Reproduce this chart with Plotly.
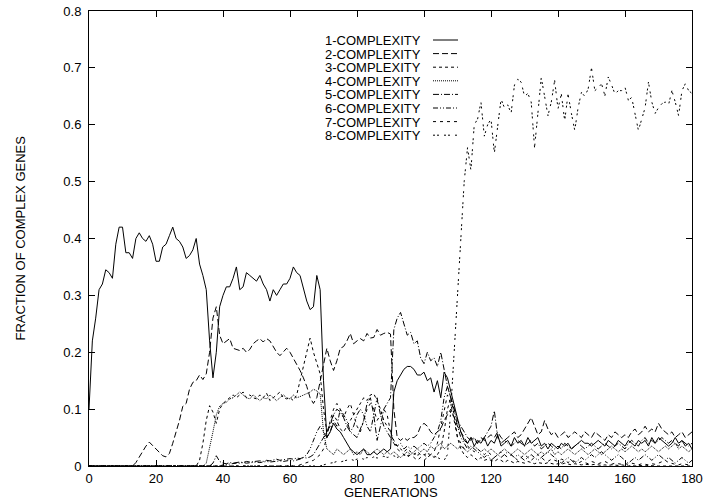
import plotly.graph_objects as go

generations = list(range(0, 181))

c1 = ([0.10, 0.22, 0.26, 0.31, 0.32, 0.345, 0.34, 0.33, 0.39, 0.42]
      + [0.42, 0.375, 0.375, 0.365, 0.40, 0.41, 0.40, 0.395, 0.405, 0.39]
      + [0.36, 0.36, 0.385, 0.39, 0.405, 0.42, 0.40, 0.395, 0.385, 0.365]
      + [0.37, 0.38, 0.40, 0.355, 0.335, 0.31, 0.22, 0.155, 0.20, 0.28]
      + [0.30, 0.315, 0.315, 0.33, 0.35, 0.31, 0.315, 0.34, 0.335, 0.33]
      + [0.325, 0.335, 0.32, 0.31, 0.29, 0.31, 0.30, 0.31, 0.32, 0.32]
      + [0.33, 0.35, 0.34, 0.335, 0.31, 0.29, 0.275, 0.28, 0.335, 0.31]
      + [0.15, 0.05, 0.06, 0.075, 0.065, 0.06, 0.05, 0.04, 0.03, 0.025]
      + [0.02, 0.025, 0.03, 0.02, 0.02, 0.025, 0.02, 0.025, 0.03, 0.025]
      + [0.03, 0.13, 0.15, 0.16, 0.17, 0.175, 0.175, 0.17, 0.16, 0.16]
      + [0.165, 0.15, 0.155, 0.13, 0.15, 0.12, 0.165, 0.155, 0.13, 0.11]
      + [0.08, 0.06, 0.045, 0.04, 0.05, 0.035, 0.045, 0.04, 0.05, 0.035]
      + [0.045, 0.04, 0.055, 0.035, 0.04, 0.045, 0.035, 0.05, 0.04, 0.045]
      + [0.035, 0.05, 0.04, 0.045, 0.05, 0.035, 0.04, 0.03, 0.04, 0.035]
      + [0.03, 0.04, 0.035, 0.04, 0.03, 0.035, 0.04, 0.045, 0.04, 0.04]
      + [0.035, 0.04, 0.045, 0.04, 0.035, 0.045, 0.04, 0.035, 0.045, 0.04]
      + [0.035, 0.045, 0.04, 0.035, 0.045, 0.04, 0.045, 0.035, 0.05, 0.04]
      + [0.05, 0.045, 0.04, 0.035, 0.04, 0.05, 0.04, 0.045, 0.035, 0.04]
      + [0.03])

c2 = ([0, 0, 0, 0, 0, 0, 0, 0, 0, 0]
      + [0, 0, 0, 0, 0.006, 0.016, 0.026, 0.035, 0.042, 0.036]
      + [0.03, 0.024, 0.018, 0.016, 0.022, 0.04, 0.06, 0.08, 0.105, 0.11]
      + [0.135, 0.147, 0.15, 0.16, 0.152, 0.162, 0.2, 0.26, 0.28, 0.23]
      + [0.215, 0.22, 0.224, 0.207, 0.205, 0.203, 0.207, 0.2, 0.205, 0.215]
      + [0.22, 0.224, 0.218, 0.224, 0.22, 0.21, 0.2, 0.194, 0.2, 0.207]
      + [0.2, 0.19, 0.18, 0.168, 0.155, 0.14, 0.12, 0.11, 0.12, 0.15]
      + [0.18, 0.207, 0.185, 0.168, 0.185, 0.207, 0.21, 0.22, 0.233, 0.215]
      + [0.22, 0.224, 0.22, 0.233, 0.225, 0.226, 0.24, 0.23, 0.233, 0.235]
      + [0.232, 0.1, 0.05, 0.045, 0.05, 0.045, 0.05, 0.05, 0.055, 0.07]
      + [0.075, 0.07, 0.06, 0.055, 0.06, 0.065, 0.08, 0.09, 0.1, 0.085]
      + [0.07, 0.06, 0.05, 0.04, 0.05, 0.045, 0.04, 0.05, 0.045, 0.05]
      + [0.055, 0.05, 0.06, 0.05, 0.045, 0.05, 0.055, 0.06, 0.05, 0.055]
      + [0.065, 0.075, 0.085, 0.07, 0.055, 0.06, 0.08, 0.065, 0.055, 0.06]
      + [0.05, 0.055, 0.06, 0.05, 0.055, 0.06, 0.055, 0.05, 0.06, 0.055]
      + [0.05, 0.06, 0.055, 0.05, 0.045, 0.055, 0.05, 0.06, 0.055, 0.05]
      + [0.055, 0.05, 0.06, 0.065, 0.055, 0.06, 0.07, 0.06, 0.065, 0.06]
      + [0.075, 0.065, 0.06, 0.055, 0.06, 0.05, 0.055, 0.06, 0.05, 0.055]
      + [0.06])

c3 = ([0] * 30
      + [0, 0, 0, 0.01, 0.04, 0.08, 0.106, 0.095, 0.075, 0.1]
      + [0.11, 0.115, 0.12, 0.125, 0.12, 0.125, 0.13, 0.12, 0.125, 0.12]
      + [0.118, 0.125, 0.12, 0.128, 0.115, 0.12, 0.125, 0.13, 0.12, 0.118]
      + [0.12, 0.115, 0.125, 0.15, 0.18, 0.2, 0.225, 0.2, 0.18, 0.162]
      + [0.1, 0.06, 0.07, 0.09, 0.08, 0.065, 0.06, 0.07, 0.08, 0.09]
      + [0.1, 0.11, 0.12, 0.115, 0.125, 0.127, 0.115, 0.1, 0.08, 0.07]
      + [0.06, 0.045, 0.035, 0.03, 0.025, 0.03, 0.025, 0.02, 0.025, 0.02]
      + [0.02, 0.015, 0.02, 0.015, 0.02, 0.03, 0.06, 0.1, 0.12, 0.09]
      + [0.05, 0.03, 0.02, 0.015, 0.02, 0.015, 0.01, 0.015, 0.01, 0.012]
      + [0.01, 0.008, 0.012, 0.01, 0.006, 0.01, 0.008, 0.005, 0.008, 0.006]
      + [0.005, 0.008, 0.006, 0.004, 0.006, 0.005, 0.004, 0.006, 0.004, 0.003]
      + [0.004, 0.003, 0.005, 0.003, 0.002, 0.004, 0.003, 0.002, 0.003, 0.002]
      + [0.002, 0.003, 0.002, 0.001, 0.002, 0.001, 0.002, 0.001, 0.001, 0.002]
      + [0.001, 0, 0.001, 0, 0.001, 0, 0, 0.001, 0, 0]
      + [0, 0, 0, 0, 0, 0, 0, 0, 0, 0, 0])

c4 = ([0] * 35
      + [0.005, 0.03, 0.06, 0.09, 0.105]
      + [0.11, 0.112, 0.118, 0.12, 0.125, 0.13, 0.125, 0.12, 0.118, 0.125]
      + [0.12, 0.115, 0.12, 0.118, 0.125, 0.12, 0.115, 0.12, 0.125, 0.12]
      + [0.118, 0.125, 0.12, 0.122, 0.125, 0.128, 0.13, 0.135, 0.132, 0.127]
      + [0.06, 0.03, 0.025, 0.02, 0.03, 0.025, 0.02, 0.025, 0.03, 0.02]
      + [0.025, 0.02, 0.03, 0.025, 0.02, 0.025, 0.03, 0.025, 0.02, 0.025]
      + [0.02, 0.025, 0.02, 0.015, 0.02, 0.025, 0.02, 0.025, 0.03, 0.025]
      + [0.03, 0.025, 0.035, 0.03, 0.035, 0.04, 0.03, 0.035, 0.04, 0.035]
      + [0.03, 0.035, 0.03, 0.025, 0.03, 0.035, 0.03, 0.025, 0.03, 0.025]
      + [0.03, 0.025, 0.02, 0.025, 0.03, 0.025, 0.02, 0.025, 0.03, 0.025]
      + [0.02, 0.025, 0.03, 0.025, 0.02, 0.025, 0.02, 0.025, 0.03, 0.02]
      + [0.025, 0.02, 0.025, 0.03, 0.025, 0.02, 0.025, 0.03, 0.025, 0.02]
      + [0.025, 0.03, 0.025, 0.02, 0.025, 0.03, 0.035, 0.03, 0.025, 0.03]
      + [0.025, 0.03, 0.035, 0.03, 0.025, 0.03, 0.025, 0.03, 0.035, 0.03]
      + [0.025, 0.03, 0.035, 0.03, 0.035, 0.04, 0.03, 0.035, 0.03, 0.025]
      + [0.03])

c5 = ([0] * 37
      + [0.005, 0.018, 0.008]
      + [0.005, 0.004, 0.006, 0.005, 0.006, 0.007, 0.006, 0.008, 0.007, 0.008]
      + [0.008, 0.009, 0.008, 0.01, 0.009, 0.01, 0.012, 0.01, 0.011, 0.012]
      + [0.013, 0.012, 0.014, 0.013, 0.015, 0.014, 0.016, 0.02, 0.03, 0.04]
      + [0.05, 0.06, 0.075, 0.09, 0.1, 0.095, 0.085, 0.07, 0.06, 0.055]
      + [0.05, 0.065, 0.08, 0.11, 0.12, 0.09, 0.045, 0.07, 0.1, 0.11]
      + [0.12, 0.24, 0.26, 0.27, 0.25, 0.23, 0.235, 0.215, 0.22, 0.19]
      + [0.18, 0.2, 0.185, 0.19, 0.175, 0.2, 0.17, 0.14, 0.12, 0.1]
      + [0.08, 0.07, 0.06, 0.05, 0.045, 0.05, 0.04, 0.045, 0.05, 0.06]
      + [0.07, 0.097, 0.05, 0.04, 0.045, 0.04, 0.035, 0.04, 0.045, 0.04]
      + [0.035, 0.04, 0.045, 0.035, 0.04, 0.03, 0.035, 0.04, 0.035, 0.03]
      + [0.035, 0.03, 0.04, 0.035, 0.03, 0.035, 0.04, 0.035, 0.03, 0.035]
      + [0.04, 0.035, 0.03, 0.035, 0.04, 0.035, 0.03, 0.035, 0.04, 0.035]
      + [0.03, 0.04, 0.045, 0.04, 0.035, 0.045, 0.05, 0.04, 0.045, 0.04]
      + [0.045, 0.05, 0.045, 0.04, 0.045, 0.04, 0.035, 0.045, 0.04, 0.035]
      + [0.04])

c6 = ([0] * 40
      + [0.002, 0.003, 0.004, 0.004, 0.005, 0.005, 0.006, 0.005, 0.006, 0.006]
      + [0.007, 0.006, 0.007, 0.008, 0.007, 0.008, 0.008, 0.009, 0.008, 0.009]
      + [0.01, 0.009, 0.01, 0.012, 0.015, 0.02, 0.03, 0.045, 0.06, 0.07]
      + [0.06, 0.05, 0.06, 0.08, 0.07, 0.1, 0.09, 0.08, 0.06, 0.07]
      + [0.09, 0.1, 0.09, 0.07, 0.06, 0.09, 0.12, 0.09, 0.07, 0.06]
      + [0.05, 0.04, 0.035, 0.04, 0.03, 0.035, 0.03, 0.035, 0.03, 0.035]
      + [0.04, 0.035, 0.04, 0.05, 0.06, 0.08, 0.12, 0.14, 0.12, 0.1]
      + [0.07, 0.05, 0.04, 0.03, 0.035, 0.03, 0.025, 0.02, 0.015, 0.02]
      + [0.01, 0.015, 0.02, 0.015, 0.02, 0.025, 0.02, 0.015, 0.02, 0.015]
      + [0.01, 0.015, 0.02, 0.015, 0.01, 0.015, 0.02, 0.025, 0.02, 0.015]
      + [0.01, 0.005, 0.01, 0.015, 0.01, 0.005, 0.01, 0.015, 0.01, 0.015]
      + [0.02, 0.015, 0.02, 0.025, 0.02, 0.015, 0.01, 0.015, 0.02, 0.015]
      + [0.01, 0.005, 0.01, 0.015, 0.01, 0.015, 0.02, 0.015, 0.01, 0.015]
      + [0.02, 0.015, 0.01, 0.015, 0.01, 0.005, 0.01, 0.015, 0.01, 0.005]
      + [0.01])

c7 = ([0] * 62
      + [0, 0.002, 0.004, 0.006, 0.008, 0.01, 0.015, 0.02]
      + [0.03, 0.05, 0.08, 0.1, 0.11, 0.1, 0.085, 0.1, 0.11, 0.09]
      + [0.07, 0.06, 0.08, 0.1, 0.11, 0.1, 0.08, 0.09, 0.1, 0.09]
      + [0.06, 0.04, 0.03, 0.025, 0.02, 0.015, 0.02, 0.015, 0.01, 0.015]
      + [0.01, 0.015, 0.02, 0.025, 0.04, 0.07, 0.1, 0.125, 0.11, 0.08]
      + [0.05, 0.04, 0.03, 0.035, 0.03, 0.025, 0.03, 0.025, 0.02, 0.025]
      + [0.02, 0.015, 0.02, 0.025, 0.02, 0.015, 0.02, 0.015, 0.01, 0.015]
      + [0.02, 0.015, 0.01, 0.015, 0.02, 0.015, 0.01, 0.008, 0.012, 0.01]
      + [0.008, 0.012, 0.01, 0.006, 0.01, 0.008, 0.005, 0.008, 0.006, 0.004]
      + [0.008, 0.006, 0.004, 0.006, 0.008, 0.005, 0.003, 0.005, 0.004, 0.003]
      + [0.004, 0.003, 0.005, 0.004, 0.002, 0.004, 0.003, 0.002, 0.004, 0.003]
      + [0.005, 0.008, 0.01, 0.006, 0.004, 0.003, 0.002, 0.004, 0.003, 0.002]
      + [0.003])

c8 = ([0] * 70
      + [0.002, 0.004, 0.005, 0.006, 0.008, 0.007, 0.009, 0.01, 0.012, 0.01]
      + [0.012, 0.014, 0.012, 0.015, 0.013, 0.016, 0.014, 0.015, 0.017, 0.015]
      + [0.016, 0.018, 0.015, 0.017, 0.02, 0.018, 0.02, 0.022, 0.019, 0.021]
      + [0.02, 0.022, 0.02, 0.018, 0.015, 0.012, 0.01, 0.02, 0.1, 0.2]
      + [0.3, 0.41, 0.5, 0.56, 0.52, 0.6, 0.61, 0.64, 0.58, 0.6]
      + [0.61, 0.55, 0.6, 0.645, 0.63, 0.635, 0.62, 0.67, 0.68, 0.675]
      + [0.65, 0.655, 0.64, 0.56, 0.62, 0.683, 0.65, 0.616, 0.64, 0.678]
      + [0.628, 0.654, 0.607, 0.654, 0.62, 0.59, 0.63, 0.657, 0.65, 0.663]
      + [0.70, 0.66, 0.665, 0.672, 0.651, 0.684, 0.67, 0.654, 0.66, 0.66]
      + [0.666, 0.643, 0.648, 0.62, 0.59, 0.61, 0.63, 0.675, 0.64, 0.62]
      + [0.63, 0.637, 0.64, 0.635, 0.66, 0.64, 0.616, 0.66, 0.672, 0.66]
      + [0.655])

series_names = ["1-COMPLEXITY", "2-COMPLEXITY", "3-COMPLEXITY", "4-COMPLEXITY",
                "5-COMPLEXITY", "6-COMPLEXITY", "7-COMPLEXITY", "8-COMPLEXITY"]
series_values = [c1, c2, c3, c4, c5, c6, c7, c8]
dashes = ["solid", "6px,3px", "3px,3px", "1px,1px", "6px,2px,1px,2px",
          "5px,2px,1px,2px,1px,2px", "3px,4px", "2px,2px,2px,5px"]

x_ticks = [0, 20, 40, 60, 80, 100, 120, 140, 160, 180]
y_ticks = [0, 0.1, 0.2, 0.3, 0.4, 0.5, 0.6, 0.7, 0.8]
y_tick_labels = ["0", "0.1", "0.2", "0.3", "0.4", "0.5", "0.6", "0.7", "0.8"]

for v in series_values:
    assert len(v) == len(generations), len(v)

W, H = 705, 503
PL, PR, PT, PB = 89, 692, 11, 466          # plot area in pixels
ML, MT, MR, MB = PL, PT, W - PR, H - PB
PW, PH = PR - PL, PB - PT
FONT = "Liberation Sans, Arial, Helvetica, sans-serif"


def px_x(px):
    return (px - PL) / PW


def px_y(py):
    return (PB - py) / PH


fig = go.Figure()
for name, vals, dash in zip(series_names, series_values, dashes):
    fig.add_trace(go.Scatter(x=generations, y=vals, mode="lines", name=name,
                             line=dict(color="black", width=1, dash=dash),
                             showlegend=False, hoverinfo="skip"))

# gnuplot-style legend: text on the left, line sample on the right
annotations = []
shapes = []
row0, step = 40, 13.6
for i, (name, dash) in enumerate(zip(series_names, dashes)):
    yp = px_y(row0 + i * step)
    annotations.append(dict(text=name, xref="paper", yref="paper",
                            x=px_x(423), y=yp, xanchor="right", yanchor="middle",
                            height=12, showarrow=False,
                            font=dict(family=FONT, size=13, color="black")))
    shapes.append(dict(type="line", xref="paper", yref="paper",
                       x0=px_x(433), x1=px_x(458), y0=yp, y1=yp,
                       line=dict(color="black", width=1, dash=dash)))

annotations.append(dict(text="GENERATIONS", xref="paper", yref="paper",
                        x=0.5, y=px_y(492.5), xanchor="center", yanchor="middle",
                        showarrow=False, font=dict(family=FONT, size=13, color="black")))
annotations.append(dict(text="FRACTION OF COMPLEX GENES", xref="paper", yref="paper",
                        x=px_x(20), y=0.5, xanchor="center", yanchor="middle",
                        textangle=-90, showarrow=False,
                        font=dict(family=FONT, size=13, color="black")))

axis_common = dict(showgrid=False, zeroline=False, showline=True, linecolor="black",
                   linewidth=1, mirror="ticks", ticks="inside", ticklen=6,
                   tickcolor="black", tickwidth=1, ticklabeloverflow="allow",
                   tickfont=dict(family=FONT, size=13, color="black"))

fig.update_layout(
    width=W, height=H,
    margin=dict(l=ML, r=MR, t=MT, b=MB, pad=0, autoexpand=False),
    paper_bgcolor="white", plot_bgcolor="white",
    xaxis=dict(range=[0, 180], tickvals=x_ticks, automargin=False, **axis_common),
    yaxis=dict(range=[0, 0.8], tickvals=y_ticks, ticktext=y_tick_labels,
               ticklabelstandoff=4, automargin=False, **axis_common),
    annotations=annotations, shapes=shapes,
    font=dict(family=FONT, size=13, color="black"),
    hovermode=False,
)

fig.write_html(
    "out.html",
    config={"displayModeBar": False, "staticPlot": True},
    post_script="document.body.style.margin='0';document.body.style.overflow='hidden';",
)
